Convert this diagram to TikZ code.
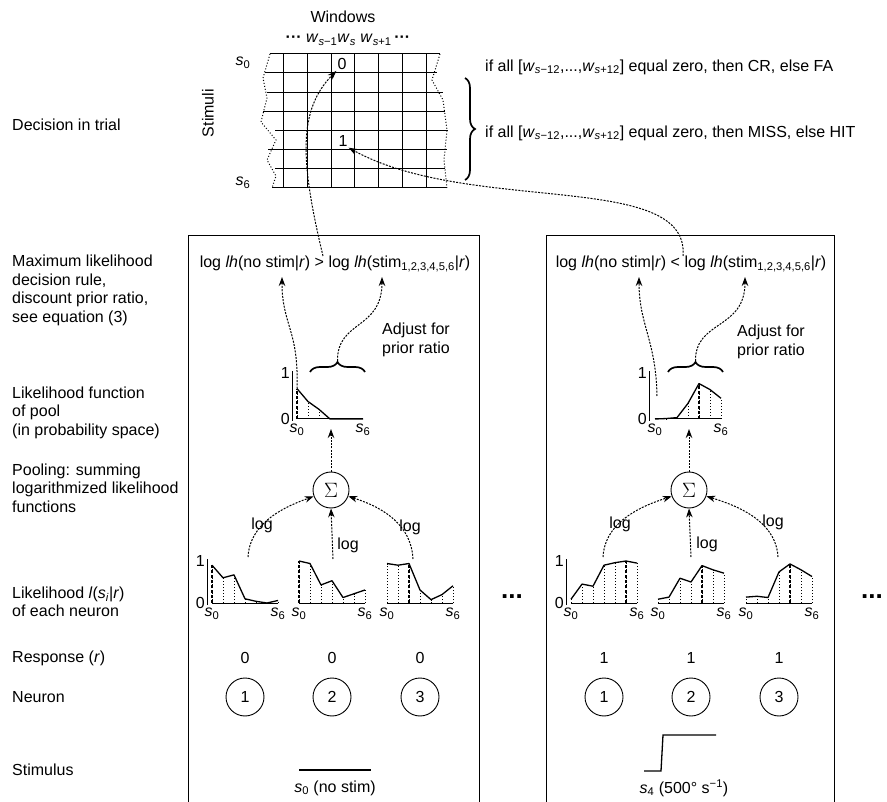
\documentclass[tikz,border=0pt]{standalone}
\usepackage{fontspec}
\setmainfont{Liberation Sans}
\usetikzlibrary{decorations.pathreplacing,arrows.meta}
\newcommand{\si}[1]{\textit{s}\textsubscript{#1}}
\newcommand{\lhplot}[6]{%
  \foreach \val [count=\i from 0] in {#5}{%
    \coordinate (#1-\i) at ({#2+\i*11},{#3-\val*#4});
    \coordinate (#1-b\i) at ({#2+\i*11},#3);
    \draw[dotted, line width=1pt] (#1-b\i) -- (#1-\i);
  }
  \draw[line width=1.8pt, dash pattern=on 3pt off 2pt] (#1-b#6) -- (#1-#6);
  \draw[line width=1pt] (#1-b0) -- (#1-b6);
  \draw[line width=1.3pt, line join=round] (#1-0) -- (#1-1) -- (#1-2) -- (#1-3) -- (#1-4) -- (#1-5) -- (#1-6);
  \node[txt, anchor=north] (#1-l0) at ([yshift=-5pt]#1-b0) {\si{0}};
  \node[txt, anchor=north] (#1-l6) at ([yshift=-5pt]#1-b6) {\si{6}};
}
\newcommand{\lhaxis}[4]{%
  \draw[line width=1pt] (#2,#3+2) -- (#2,#3-#4-2);
  \node[txt, anchor=east] (#1-one) at (#2-2,#3-#4) {1};
  \node[txt, anchor=east] (#1-zero) at (#2-2,#3) {0};
}
\begin{document}
\begin{tikzpicture}[x=1pt,y=-1pt,
  txt/.style={font=\fontsize{16}{18.5}\selectfont, inner sep=0pt},
  lbl/.style={txt, anchor=west, align=left},
  darr/.style={dash pattern=on 2pt off 1.3pt, line width=1pt, -{Stealth[length=9pt,width=6.5pt]}},
  brc/.style={decorate, decoration={brace, amplitude=10pt}, line width=1.7pt},
  neuron/.style={txt, draw, circle, line width=0.9pt, minimum size=38pt},
  sumnode/.style={draw, circle, line width=0.9pt, minimum size=36pt, inner sep=0pt},
  dots/.style={font=\fontsize{26}{26}\bfseries, inner sep=0pt}]
\path[use as bounding box] (0,0) rectangle (887,802);

% ---------- left labels ----------
\node[lbl] (Ldec) at (12,125) {Decision in trial};
\node[lbl] (Lml) at (12,290.5) {Maximum likelihood\\decision rule,\\discount prior ratio,\\see equation (3)};
\node[lbl] (Lpool) at (12,412.5) {Likelihood function\\of pool\\(in probability space)};
\node[lbl] (Lsum) at (12,488) {Pooling: summing\\logarithmized likelihood\\functions};
\node[lbl] (Llh) at (12,602) {Likelihood \textit{l}(\textit{s}\textsubscript{\textit{i}}|\textit{r})\\of each neuron};
\node[lbl] (Lresp) at (12,658) {Response (\textit{r})};
\node[lbl] (Lneu) at (12,697) {Neuron};
\node[lbl] (Lstim) at (12,770) {Stimulus};

% ---------- decision grid ----------
\node[txt] (win) at (343,17) {Windows};
\node[txt] (wrow) at (348,40) {\textbf{···} \textit{w}\textsubscript{\textit{s}−1}\textit{w}\textsubscript{\textit{s}} \textit{w}\textsubscript{\textit{s}+1}\,\textbf{···}};
\node[txt] (stimuli) at (208,113) [rotate=90] {Stimuli};
\node[txt] (gs0) at (243,63) {\si{0}};
\node[txt] (gs6) at (243,183) {\si{6}};
\foreach \yy/\ll/\rr in {54/270/440, 73/265/437, 93/267/443, 112/263/445, 131/275/448, 150/268/447, 169/275/445, 188/272/447}
  \draw[line width=1pt] (\ll,\yy) -- (\rr,\yy);
\foreach \xx in {283,307,331,354,378,402,426}
  \draw[line width=1pt] (\xx,54) -- (\xx,188);
\draw[dotted, line width=1pt] (270,54) -- (263,78) -- (267,98) -- (261,122) -- (276,140) -- (267,160) -- (276,176) -- (272,188);
\draw[dotted, line width=1pt] (440,54) -- (432,80) -- (443,100) -- (447,130) -- (444,160) -- (447,188);
\node[txt, fill=white, inner sep=1pt] (g0) at (342,64) {0};
\node[txt, fill=white, inner sep=1pt] (g1) at (343,141) {1};
\draw[brc] (465,78) -- (465,180);
\node[lbl] (ifA) at (485,67) {if all [\textit{w}\textsubscript{\textit{s}−12},...,\textit{w}\textsubscript{\textit{s}+12}] equal zero, then CR, else FA};
\node[lbl] (ifB) at (485,133) {if all [\textit{w}\textsubscript{\textit{s}−12},...,\textit{w}\textsubscript{\textit{s}+12}] equal zero, then MISS, else HIT};

% ---------- boxes ----------
\draw[line width=1pt] (188,802) -- (188,236) -- (479,236) -- (479,802);
\draw[line width=1pt] (546,802) -- (546,236) -- (834,236) -- (834,802);
\node[dots] (dotsA) at (512,597) {...};
\node[dots] (dotsB) at (872,597) {...};

% ================= LEFT BOX =================
\node[txt] (eqL) at (335,264) {log \textit{lh}(no stim|\textit{r}) > log \textit{lh}(stim\textsubscript{1,2,3,4,5,6}|\textit{r})};
\node[lbl] (adjL) at (382,340) {Adjust for\\prior ratio};
\coordinate (tL1) at (282,277);
\coordinate (tL2) at (382,277);
% pool plot
\lhaxis{apL}{292}{419}{46}
\lhplot{pL}{297}{419}{46}{0.66,0.38,0.21,0,0,0,0}{0}
\draw[brc] (310,372) -- (365,372);
\coordinate (brL) at (337.5,361);
\draw[darr] (pL-0) .. controls (299,330) and (282,325) .. (tL1);
\draw[darr] (brL) .. controls (337,320) and (382,330) .. (tL2);
\draw[darr] ([xshift=-12pt]eqL.north) .. controls (300,160) and (298,110) .. (g0.south west);
% sum
\node[sumnode] (sigL) at (331,490) {\fontsize{20}{20}\selectfont$\Sigma$};
\coordinate (pLin) at (331,429);
\draw[darr] (sigL.north) -- (pLin);
% neuron plots
\lhaxis{anL}{207}{603}{42}
\lhplot{nL1}{212}{603}{42}{0.9,0.6,0.67,0.1,0.04,0,0.06}{0}
\lhplot{nL2}{299}{603}{42}{1.0,0.94,0.43,0.53,0.13,0.22,0.31}{0}
\lhplot{nL3}{387}{603}{42}{0.94,0.9,0.94,0.31,0.08,0.2,0.41}{2}
\coordinate (sL1) at (248,557);
\coordinate (sL2) at (333,559);
\coordinate (sL3) at (413,559);
\draw[darr] (sL1) .. controls (250,520) and (290,505) .. (sigL.200);
\draw[darr] (sL2) -- (sigL.south);
\draw[darr] (sL3) .. controls (411,520) and (375,505) .. (sigL.340);
\node[txt] (logL1) at (262,525) {log};
\node[txt] (logL2) at (348,545) {log};
\node[txt] (logL3) at (410,527) {log};
% response / neurons
\foreach \nx/\nn in {245/1,332/2,420/3}{
  \node[txt] (rL\nn) at (\nx,658) {0};
  \node[neuron] (cL\nn) at (\nx,697) {\nn};
}
% stimulus
\coordinate (stL1) at (299,770);
\coordinate (stL2) at (371,770);
\draw[line width=1.3pt] (stL1) -- (stL2);
\node[txt] (stLl) at (335,788) {\si{0} (no stim)};

% ================= RIGHT BOX =================
\node[txt] (eqR) at (691,264) {log \textit{lh}(no stim|\textit{r}) < log \textit{lh}(stim\textsubscript{1,2,3,4,5,6}|\textit{r})};
\node[lbl] (adjR) at (737,342) {Adjust for\\prior ratio};
\coordinate (tR1) at (639,277);
\coordinate (tR2) at (745,277);
\lhaxis{apR}{649}{419}{46}
\lhplot{pR}{655}{419}{46}{0,0.01,0.03,0.34,0.77,0.64,0.45}{4}
\draw[brc] (668,372) -- (723,372);
\coordinate (brR) at (695.5,361);
\coordinate (sR0) at (657,396);
\draw[darr] (sR0) .. controls (656,340) and (639,325) .. (tR1);
\draw[darr] (brR) .. controls (695,320) and (745,330) .. (tR2);
\draw[darr] ([xshift=-8pt]eqR.north) .. controls (690,170) and (470,215) .. (g1.south east);
\node[sumnode] (sigR) at (689,490) {\fontsize{20}{20}\selectfont$\Sigma$};
\coordinate (pRin) at (689,429);
\draw[darr] (sigR.north) -- (pRin);
\lhaxis{anR}{566}{603}{42}
\lhplot{nR1}{571}{603}{42}{0.09,0.45,0.4,0.9,0.96,1.0,0.95}{5}
\lhplot{nR2}{658}{603}{42}{0.09,0.14,0.59,0.5,0.89,0.79,0.71}{4}
\lhplot{nR3}{746}{603}{42}{0.14,0.16,0.13,0.74,0.93,0.79,0.63}{4}
\coordinate (sR1) at (603,557);
\coordinate (sR2) at (691,557);
\coordinate (sR3) at (778,557);
\draw[darr] (sR1) .. controls (605,520) and (645,505) .. (sigR.200);
\draw[darr] (sR2) -- (sigR.south);
\draw[darr] (sR3) .. controls (776,520) and (735,505) .. (sigR.340);
\node[txt] (logR1) at (620,524) {log};
\node[txt] (logR2) at (707,544) {log};
\node[txt] (logR3) at (773,522) {log};
\foreach \nx/\nn in {604/1,691/2,779/3}{
  \node[txt] (rR\nn) at (\nx,658) {1};
  \node[neuron] (cR\nn) at (\nx,697) {\nn};
}
\coordinate (stR1) at (644,771);
\coordinate (stR2) at (661,771);
\coordinate (stR3) at (663,735);
\coordinate (stR4) at (716,735);
\draw[line width=1.3pt] (stR1) -- (stR2) -- (stR3) -- (stR4);
\node[txt] (stRl) at (684,788) {\si{4} (500° s\textsuperscript{−1})};
\end{tikzpicture}
\end{document}
